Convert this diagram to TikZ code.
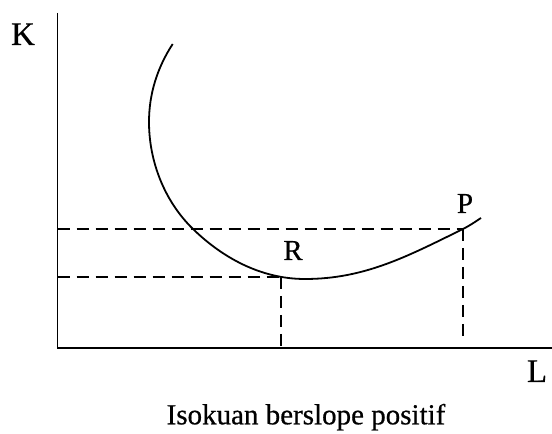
\documentclass[tikz,border=0pt]{standalone}
\usepackage{fontspec}
\setmainfont[FakeBold=0.6]{Liberation Serif}
\begin{document}
\begin{tikzpicture}[x=1pt,y=1pt,
  axisline/.style={line width=1.8pt},
  curveline/.style={line width=1.8pt},
  guide/.style={line width=1.5pt, dash pattern=on 12pt off 7pt},
  biglabel/.style={font=\fontsize{33}{33}\selectfont, inner sep=0pt, anchor=base},
  ptlabel/.style={font=\fontsize{29}{29}\selectfont, inner sep=0pt, anchor=base},
  caption/.style={font=\fontsize{29}{29}\selectfont, inner sep=0pt, anchor=base}]
\useasboundingbox (0,0) rectangle (552,434);
% axes
\coordinate (O) at (57.5,86);
\coordinate (Ytop) at (57.5,421);
\coordinate (Xend) at (552,86);
\draw[axisline] (Ytop) -- (O) -- (Xend);
% points
\coordinate (R) at (281,157);
\coordinate (P) at (463,205);
\coordinate (Rx) at (281,86);
\coordinate (Px) at (463,92);
\coordinate (Ry) at (57.5,157);
\coordinate (Py) at (57.5,205);
% guides
\draw[guide] (Py) -- (P);
\draw[guide] (Ry) -- (R);
\draw[guide] (R) -- (Rx);
\draw[guide] (P) -- (Px);
% isoquant
\draw[curveline] (172.7,390)
  .. controls (157.3,366.4) and (149,340.2) .. (149,312)
  .. controls (149,272.4) and (164.6,232.6) .. (193,205)
  .. controls (221.7,177.1) and (260,155) .. (305,155)
  .. controls (365,155) and (408,178) .. (463,205)
  .. controls (469,208) and (475,212) .. (481,216);
% labels
\node[biglabel] (K) at (23,389) {K};
\node[biglabel] (L) at (537,52) {L};
\node[ptlabel] (Rl) at (293,174) {R};
\node[ptlabel] (Pl) at (465,221) {P};
\node[caption] (cap) at (306,9.7) {Isokuan berslope positif};
\end{tikzpicture}
\end{document}
